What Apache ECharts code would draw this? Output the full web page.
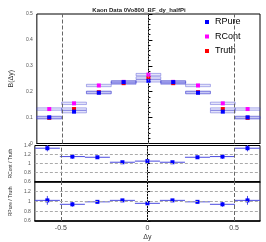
<!DOCTYPE html>
<html><head><meta charset="utf-8">
<script src="https://cdn.jsdelivr.net/npm/echarts@6/dist/echarts.min.js"></script>
<style>html,body{margin:0;padding:0;background:#fff}#c{width:266px;height:242px}</style>
</head><body><div id="c"></div>
<script>
const binLow  = [-0.65,-0.5056,-0.3611,-0.2167,-0.0722,0.0722,0.2167,0.3611,0.5056];
const binHigh = [-0.5056,-0.3611,-0.2167,-0.0722,0.0722,0.2167,0.3611,0.5056,0.65];
const rpure = [0.101,0.123,0.196,0.237,0.242,0.237,0.196,0.123,0.101];
const rcont = [0.133,0.155,0.224,0.238,0.266,0.238,0.224,0.155,0.133];
const truth = [0.099,0.133,0.198,0.233,0.253,0.233,0.198,0.133,0.099];
const mainErr = [0.004,0.004,0.004,0.004,0.004,0.004,0.004,0.004,0.004];
const ratioCont = [1.34,1.155,1.14,1.03,1.055,1.03,1.14,1.155,1.34];
const ratioContErr = [0.07,0.05,0.02,0.01,0.02,0.01,0.02,0.05,0.07];
const ratioPure = [1.02,0.94,0.99,1.02,0.96,1.02,0.99,0.94,1.02];
const ratioPureErr = [0.09,0.05,0.03,0.02,0.02,0.02,0.03,0.05,0.09];
const xTicks = [-0.5,0,0.5];

const FONT = 'Liberation Sans';
function mk(vals, errs){ return vals.map((v,i)=>[binLow[i],binHigh[i],v,errs[i]]); }
function renderer(color, band){
  return function(params, api){
    const lo=api.value(0), hi=api.value(1), v=api.value(2), e=api.value(3);
    const mid=(lo+hi)/2;
    const a=api.coord([lo,v]), b=api.coord([hi,v]);
    const t=api.coord([mid,v+e]), u=api.coord([mid,v-e]);
    const c=api.coord([mid,v]);
    const ch=[];
    if(band){
      ch.push({type:'rect',shape:{x:a[0],y:a[1]-1.2,width:b[0]-a[0],height:2.4},
        style:{fill:'rgba(120,120,230,0.2)',stroke:'rgba(70,70,210,0.6)',lineWidth:0.7}});
    } else {
      ch.push({type:'line',shape:{x1:a[0],y1:a[1],x2:b[0],y2:b[1]},style:{stroke:'#4a4ae0',lineWidth:1}});
    }
    ch.push({type:'line',shape:{x1:t[0],y1:t[1],x2:u[0],y2:u[1]},style:{stroke:'#4a4ae0',lineWidth:1}});
    ch.push({type:'rect',shape:{x:c[0]-2,y:c[1]-2,width:4,height:4},style:{fill:color}});
    return {type:'group',children:ch};
  };
}
function vlines(){
  const outer = {type:'dashed',color:'#666',width:1};
  return [
    {xAxis:-0.5,lineStyle:outer},
    {xAxis:0,lineStyle:{type:[1,2],color:'#aaa',width:1}},
    {xAxis:0.5,lineStyle:outer}
  ];
}
function hlines(){
  const s={type:[3,2],color:'#aaa',width:1};
  return [{yAxis:0.8,lineStyle:s},{yAxis:1,lineStyle:s},{yAxis:1.2,lineStyle:s}];
}
const grids=[
  {left:27,right:6,top:14,height:129.5},
  {left:27,right:6,top:145.5,height:36.2},
  {left:27,right:6,top:181.7,height:42}
];
const yLab={fontSize:5,color:'#555',fontFamily:FONT,margin:4};
const xAxes=[0,1,2].map(i=>({
  type:'value',gridIndex:i,min:-0.65,max:0.65,
  axisLine:{show:true,lineStyle:{color:'#000',width:i===0?1:1.5}},
  axisTick:{show:i===2,inside:true,length:3,customValues:xTicks,lineStyle:{color:'#000'}},
  axisLabel:{show:i===2,customValues:xTicks,fontSize:7,color:'#444',fontFamily:FONT,margin:4},
  splitLine:{show:false},
  name:i===2?'Δy':'',nameLocation:'middle',nameGap:13,
  nameTextStyle:{fontSize:7,color:'#333',fontFamily:FONT}
}));
const yAxes=[
  {type:'value',gridIndex:0,min:0,max:0.5,interval:0.1,
   axisLine:{show:true,lineStyle:{color:'#000'}},
   axisTick:{show:true,inside:true,length:4,lineStyle:{color:'#000'}},
   minorTick:{show:true,splitNumber:5,length:2,lineStyle:{color:'#000'}},
   axisLabel:Object.assign({},yLab),splitLine:{show:false},
   name:'B(Δy)',nameLocation:'middle',nameGap:17,nameRotate:90,
   nameTextStyle:{fontSize:7,color:'#333',fontFamily:FONT}},
  {type:'value',gridIndex:1,min:0.6,max:1.4,interval:0.2,
   axisLine:{show:true,lineStyle:{color:'#000'}},
   axisTick:{show:true,inside:true,length:3,lineStyle:{color:'#000'}},
   axisLabel:Object.assign({},yLab,{formatter:v=>String(+v.toFixed(1))}),splitLine:{show:false},
   name:'RCont / Truth',nameLocation:'middle',nameGap:16,nameRotate:90,
   nameTextStyle:{fontSize:5,color:'#333',fontFamily:FONT}},
  {type:'value',gridIndex:2,min:0.6,max:1.4,interval:0.2,
   axisLine:{show:true,lineStyle:{color:'#000'}},
   axisTick:{show:true,inside:true,length:3,lineStyle:{color:'#000'}},
   axisLabel:Object.assign({},yLab,{formatter:v=>v>1.3?'':String(+v.toFixed(1))}),splitLine:{show:false},
   name:'RPure / Truth',nameLocation:'middle',nameGap:16,nameRotate:90,
   nameTextStyle:{fontSize:5,color:'#333',fontFamily:FONT}}
];
const chart=echarts.init(document.getElementById('c'),null,{renderer:'canvas'});
chart.setOption({
  animation:false,
  title:{text:'Kaon Data 0Vo800_BF_dy_halfPi',left:134,top:2,textAlign:'center',
    textStyle:{fontSize:6,fontWeight:'bold',color:'#222',fontFamily:FONT}},
  legend:{orient:'vertical',left:205,top:17,padding:0,itemWidth:4,itemHeight:4,itemGap:4.5,icon:'rect',
    textStyle:{fontSize:9,lineHeight:10,color:'#000',fontFamily:FONT,padding:[0,0,0,1]},
    data:['RPure','RCont','Truth']},
  grid:grids.map(g=>Object.assign({show:true,borderColor:'#000',borderWidth:1,backgroundColor:'transparent'},g)),
  xAxis:xAxes,yAxis:yAxes,
  series:[
    {type:'line',xAxisIndex:0,yAxisIndex:0,data:[],silent:true,
      markLine:{symbol:'none',silent:true,label:{show:false},data:vlines()}},
    {type:'line',xAxisIndex:1,yAxisIndex:1,data:[],silent:true,
      markLine:{symbol:'none',silent:true,label:{show:false},data:vlines().concat(hlines())}},
    {type:'line',xAxisIndex:2,yAxisIndex:2,data:[],silent:true,
      markLine:{symbol:'none',silent:true,label:{show:false},data:vlines().concat(hlines())}},
    {name:'Truth',type:'custom',xAxisIndex:0,yAxisIndex:0,itemStyle:{color:'#ff0000'},
      renderItem:renderer('#ff0000',true),encode:{x:[0,1],y:2},data:mk(truth,mainErr)},
    {name:'RCont',type:'custom',xAxisIndex:0,yAxisIndex:0,itemStyle:{color:'#ff00ff'},
      renderItem:renderer('#ff00ff',true),encode:{x:[0,1],y:2},data:mk(rcont,mainErr)},
    {name:'RPure',type:'custom',xAxisIndex:0,yAxisIndex:0,itemStyle:{color:'#0000ff'},
      renderItem:renderer('#0000ff',true),encode:{x:[0,1],y:2},data:mk(rpure,mainErr)},
    {type:'custom',xAxisIndex:1,yAxisIndex:1,
      renderItem:renderer('#0000ff',false),encode:{x:[0,1],y:2},data:mk(ratioCont,ratioContErr)},
    {type:'custom',xAxisIndex:2,yAxisIndex:2,
      renderItem:renderer('#0000ff',false),encode:{x:[0,1],y:2},data:mk(ratioPure,ratioPureErr)}
  ]
});
</script></body></html>
